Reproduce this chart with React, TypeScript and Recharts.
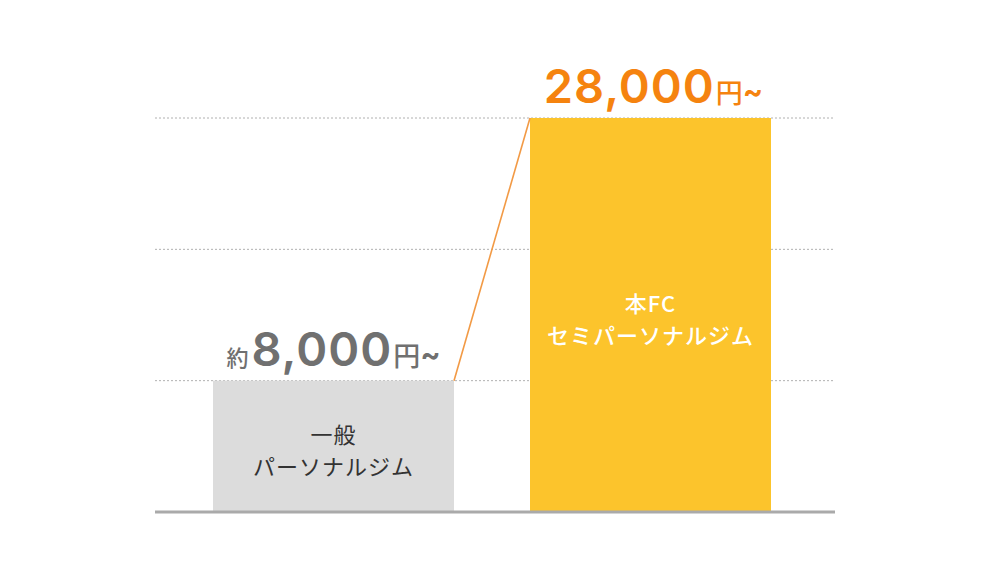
import { BarChart, Bar, XAxis, YAxis, CartesianGrid, ReferenceLine, LabelList } from "recharts";

// two plans, bar height = number of grid steps reached in the picture
const categories = ["一般パーソナルジム", "本FCセミパーソナルジム"];
const barLevels = [1, 3];
const gridLevels = [1, 2, 3];
const pricePrefixes = ["約", ""];
const priceAmounts = ["8,000", "28,000"];
const priceUnit = "円";
const priceTilde = "~";
const innerLines = [
  ["一般", "パーソナルジム"],
  ["本FC", "セミパーソナルジム"],
];

const BAR_FILL = ["#dcdcdc", "#fcc42c"];
const PRICE_FILL = ["#707070", "#f5830f"];
const INNER_FILL = ["#333333", "#ffffff"];
const CONNECTOR = "#f29a45";
const JP = '"Noto Sans CJK JP", sans-serif';
const NUM = 'Inter, "Noto Sans CJK JP", sans-serif';

const data = categories.map((name, i) => ({ name, level: barLevels[i] }));

// top-right corner of the first bar, filled while the bars render in order
const corner: { x?: number; y?: number } = {};

function BarShape(props: any) {
  const { x, y, width, height, index } = props;
  if (index === 0) {
    corner.x = x + width;
    corner.y = y;
  }
  return (
    <g>
      <rect x={x} y={y} width={width} height={height} fill={BAR_FILL[index]} />
      {index === 1 && corner.x != null && (
        <line x1={corner.x} y1={corner.y} x2={x} y2={y} stroke={CONNECTOR} strokeWidth={1.6} />
      )}
    </g>
  );
}

function PriceLabel(props: any) {
  const { x, y, width, index } = props;
  return (
    <text x={x + width / 2} y={y - 15} textAnchor="middle" fill={PRICE_FILL[index]}>
      {pricePrefixes[index] && (
        <tspan fontFamily={JP} fontSize={22} fontWeight={500}>
          {pricePrefixes[index]}
        </tspan>
      )}
      <tspan fontFamily={NUM} fontSize={47} fontWeight={600} letterSpacing={1} dx={3}>
        {priceAmounts[index]}
      </tspan>
      <tspan fontFamily={JP} fontSize={27} fontWeight={500} dx={1}>
        {priceUnit}
      </tspan>
      <tspan fontFamily={NUM} fontSize={30} fontWeight={700} dy={-1}>
        {priceTilde}
      </tspan>
    </text>
  );
}

function InnerLabel(props: any) {
  const { x, y, width, height, index } = props;
  const cx = x + width / 2;
  const cy = y + height / 2 + 3;
  const [first, second] = innerLines[index];
  const common = {
    x: cx,
    textAnchor: "middle" as const,
    dominantBaseline: "central" as const,
    fill: INNER_FILL[index],
    fontFamily: JP,
    fontSize: 22,
    fontWeight: index === 1 ? 500 : 400,
    letterSpacing: 1,
  };
  return (
    <g>
      <text {...common} y={cy - 16}>
        {first}
      </text>
      <text {...common} y={cy + 16}>
        {second}
      </text>
    </g>
  );
}

export default function App() {
  return (
    <div style={{ position: "absolute", left: 0, top: 0 }}>
      <BarChart
        width={990}
        height={579}
        data={data}
        margin={{ top: 118, right: 155, bottom: 67, left: 155 }}
        barSize={241}
      >
        <CartesianGrid
          vertical={false}
          horizontalValues={gridLevels}
          stroke="#b0b0b0"
          strokeDasharray="2 2"
        />
        <XAxis dataKey="name" hide padding={{ left: 20, right: 26 }} />
        <YAxis hide domain={[0, 3]} ticks={gridLevels} />
        <Bar dataKey="level" shape={BarShape} isAnimationActive={false}>
          <LabelList dataKey="level" content={PriceLabel} />
          <LabelList dataKey="level" content={InnerLabel} />
        </Bar>
        <ReferenceLine y={0} stroke="#aaaaaa" strokeWidth={3} />
      </BarChart>
    </div>
  );
}
